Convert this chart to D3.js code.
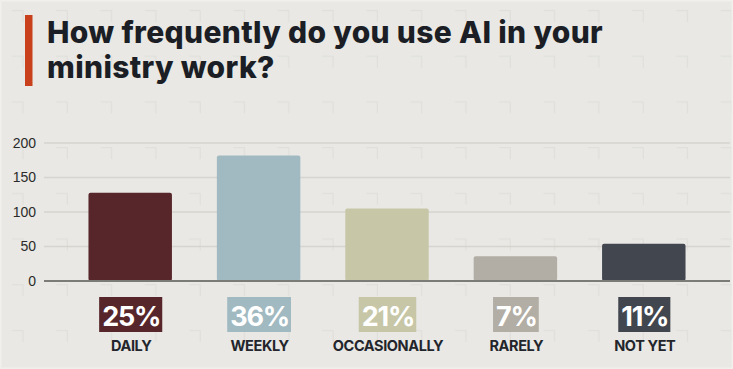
<!DOCTYPE html>
<html><head><meta charset="utf-8">
<script src="https://cdn.jsdelivr.net/npm/d3@7"></script>
<style>html,body{margin:0;padding:0;background:#e9e8e4;}svg{display:block;}</style>
</head><body>
<svg id="c" width="733" height="369"></svg>
<script>
const titleLines = ["How frequently do you use AI in your", "ministry work?"];
const categories = ["DAILY", "WEEKLY", "OCCASIONALLY", "RARELY", "NOT YET"];
const counts = [128, 182, 105, 36, 54];
const percents = ["25%", "36%", "21%", "7%", "11%"];
const colors = ["#56262a", "#a1b9c1", "#c7c7a7", "#b2ada5", "#42464e"];
const yTicks = [0, 50, 100, 150, 200];

const W = 733, H = 369;
const svg = d3.select("#c");

// background with faint corner-mark pattern
const defs = svg.append("defs");
const pat = defs.append("pattern").attr("id", "bgp").attr("patternUnits", "userSpaceOnUse")
  .attr("width", 44.3).attr("height", 45.7).attr("x", 0).attr("y", 0);
pat.append("path").attr("d", "M12,10.5 H23 V22").attr("fill", "none")
  .attr("stroke", "#e0dfdb").attr("stroke-width", 1.2);
svg.append("rect").attr("width", W).attr("height", H).attr("fill", "#e9e8e4");
svg.append("rect").attr("width", W).attr("height", H).attr("fill", "url(#bgp)");
svg.append("rect").attr("x", 0.75).attr("y", 0.75).attr("width", W - 1.5).attr("height", H - 1.5)
  .attr("fill", "none").attr("stroke", "#f1f0ec").attr("stroke-width", 1.5);

// title
svg.append("rect").attr("x", 25).attr("y", 15).attr("width", 7.5).attr("height", 71).attr("fill", "#c9401c");
const title = svg.append("g").attr("font-family", "Inter, 'Open Sans', sans-serif")
  .attr("font-weight", 800).attr("font-size", 30).attr("fill", "#1b1e25");
titleLines.forEach((t, i) => {
  title.append("text").attr("x", 47).attr("y", 43 + i * 35).text(t);
});
const first = title.select("text").node();
const w0 = first.getComputedTextLength();
const ls = (556 - w0) / titleLines[0].length;
title.selectAll("text").attr("letter-spacing", ls);

// scales
const x = d3.scaleBand().domain(categories).range([66, 708]).paddingInner(0.35).paddingOuter(0.175);
const y = d3.scaleLinear().domain([0, 200]).range([281, 143]);

// grid
svg.append("g").selectAll("line").data(yTicks.filter(d => d > 0)).join("line")
  .attr("x1", 44).attr("x2", 730).attr("y1", d => y(d)).attr("y2", d => y(d))
  .attr("stroke", "#d5d4cf").attr("stroke-width", 1.5);

// y axis labels
const yAxis = d3.axisLeft(y).tickValues(yTicks).tickSize(0).tickPadding(0);
const gy = svg.append("g").attr("transform", "translate(36,0)").call(yAxis);
gy.select(".domain").remove();
gy.selectAll("text").attr("font-family", "'Liberation Sans', Arial, sans-serif")
  .attr("font-size", 14).attr("fill", "#2b2b2b");

// bars
svg.append("g").selectAll("rect").data(counts).join("rect")
  .attr("x", (d, i) => x(categories[i]))
  .attr("width", x.bandwidth())
  .attr("y", d => y(d))
  .attr("height", d => y(0) - y(d))
  .attr("rx", 2)
  .attr("fill", (d, i) => colors[i]);

// baseline
svg.append("line").attr("x1", 44).attr("x2", 730).attr("y1", y(0)).attr("y2", y(0))
  .attr("stroke", "#7b7b78").attr("stroke-width", 2);

// percent boxes
const pg = svg.append("g");
percents.forEach((p, i) => {
  const cx = x(categories[i]) + x.bandwidth() / 2 + 1;
  const g = pg.append("g");
  const r = g.append("rect").attr("fill", colors[i]);
  const t = g.append("text").attr("x", cx).attr("y", 326).attr("text-anchor", "middle")
    .attr("font-family", "Inter, sans-serif").attr("font-weight", 700).attr("font-size", 27)
    .attr("letter-spacing", -1.2).attr("fill", "#ffffff").text(p);
  const bw = t.node().getComputedTextLength();
  r.attr("x", cx - bw / 2 - 3).attr("y", 297).attr("width", bw + 5).attr("height", 35);
});

// category labels
svg.append("g").selectAll("text").data(categories).join("text")
  .attr("x", d => x(d) + x.bandwidth() / 2 + 1).attr("y", 351).attr("text-anchor", "middle")
  .attr("font-family", "Inter, sans-serif").attr("font-weight", 700).attr("font-size", 14.5)
  .attr("letter-spacing", -0.4).attr("fill", "#22252b").text(d => d);
</script>
</body></html>
